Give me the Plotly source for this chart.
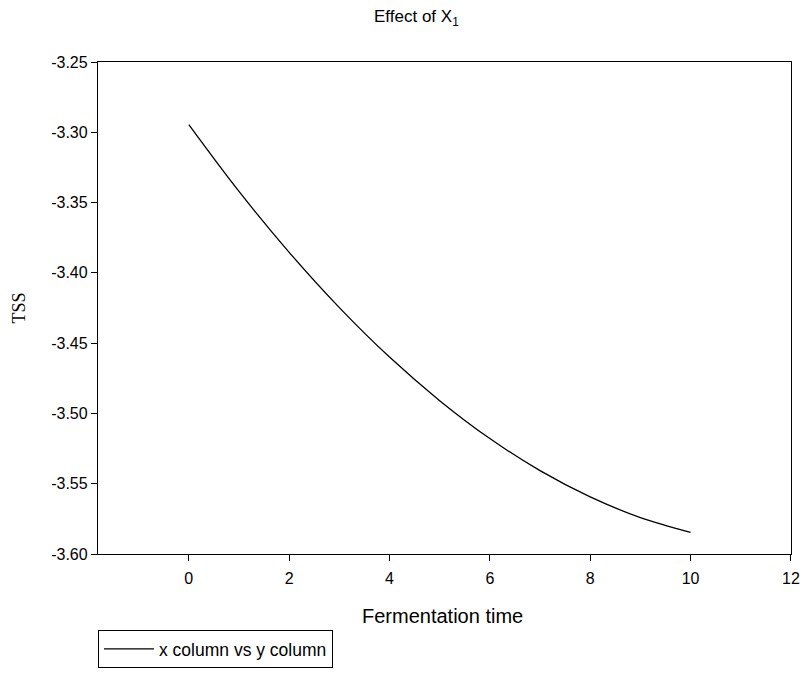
import plotly.graph_objects as go

# Data
fermentation_time = [0, 1, 2, 3, 4, 5, 6, 7, 8, 9, 10]
tss = [-3.2946, -3.3421, -3.3854, -3.4247, -3.4599, -3.4909,
       -3.5179, -3.5407, -3.5594, -3.5741, -3.5846]
x_ticks = [0, 2, 4, 6, 8, 10, 12]
y_ticks = [-3.60, -3.55, -3.50, -3.45, -3.40, -3.35, -3.30, -3.25]
series_name = "x column vs y column"

fig = go.Figure()
fig.add_trace(go.Scatter(
    x=fermentation_time, y=tss, mode="lines", name=series_name,
    line=dict(color="black", width=1.3, shape="spline"),
))

# plot area: x 98..791, y 62..554 in the 805x676 window
W, H = 805, 676
PX0, PX1, PY0, PY1 = 98, 791, 62, 554
L, R, T, B = PX0, W - PX1, PY0, H - PY1


def px(x):
    return (x - PX0) / (PX1 - PX0)


def py(y):
    return (PY1 - y) / (PY1 - PY0)


axis_common = dict(
    showline=True, linecolor="black", linewidth=1.3, mirror=True,
    ticks="outside", tickcolor="black", tickwidth=1.3, ticklen=6,
    showgrid=False, zeroline=False, ticklabeloverflow="allow",
    automargin=False,
    tickfont=dict(family="Liberation Sans, Arial", size=16, color="black"),
)

fig.update_layout(
    width=W, height=H,
    margin=dict(l=L, r=R, t=T, b=B, autoexpand=False),
    paper_bgcolor="white", plot_bgcolor="white",
    showlegend=True,
    legend=dict(
        x=PX0 / W, y=1 - 630 / H, xref="container", yref="container",
        xanchor="left", yanchor="top",
        bordercolor="black", borderwidth=1,
        font=dict(family="Liberation Sans, Arial", size=17.5, color="black"),
        bgcolor="white", itemwidth=50,
    ),
    xaxis=dict(range=[-1.81, 12.002], tickvals=x_ticks,
               ticklabelstandoff=4, **axis_common),
    yaxis=dict(range=[-3.60, -3.25], tickvals=y_ticks,
               ticktext=[f"{v:.2f}" for v in y_ticks], **axis_common),
    annotations=[
        dict(text="Effect of X<sub>1</sub>", x=px(416), y=py(18),
             xref="paper", yref="paper", showarrow=False,
             xanchor="center", yanchor="middle",
             font=dict(family="Liberation Sans, Arial", size=17, color="black")),
        dict(text="Fermentation time", x=px(442.5), y=py(616),
             xref="paper", yref="paper", showarrow=False,
             xanchor="center", yanchor="middle",
             font=dict(family="Liberation Sans, Arial", size=20, color="black")),
        dict(text="TSS", x=px(18.5), y=py(308), textangle=-90,
             xref="paper", yref="paper", showarrow=False,
             xanchor="center", yanchor="middle",
             font=dict(family="Liberation Serif, Times New Roman", size=18, color="black")),
    ],
)

fig.write_html(
    "out.html",
    config={"displayModeBar": False},
    post_script="document.body.style.margin='0';document.body.style.overflow='hidden';",
)
